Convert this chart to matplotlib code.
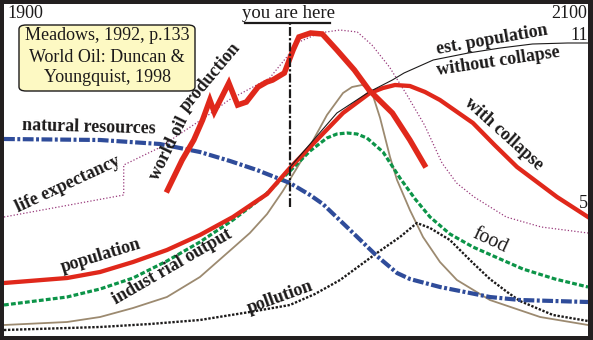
import matplotlib
matplotlib.use("Agg")
import matplotlib.pyplot as plt
from matplotlib.patches import FancyBboxPatch

W, H = 593, 340

# ---------------- data (year, relative level) ----------------
pop_years = [1900, 1921.6, 1932.9, 1944.2, 1955.8, 1967.1, 1978.4, 1990.1, 1997.9, 2004.8, 2016.1, 2025.3,
             2029.8, 2033.9, 2039.0, 2044.2, 2049.3, 2060.6, 2068.0, 2075.7, 2089.4, 2100]
pop_vals = [53, 58, 64, 74, 86, 101, 119, 142, 168, 189, 223, 243,
            248, 251, 250, 244, 236, 213, 191, 169, 139, 119]

est_years = [1998, 2014, 2025, 2033, 2037, 2047, 2059, 2070, 2081, 2093, 2100]
est_vals = [169, 223, 244, 256, 263, 276, 283, 288, 292, 293, 293]

food_years = [1900, 1921.6, 1932.9, 1944.2, 1955.8, 1967.1, 1978.4, 1988.7, 1999.0, 2004.8, 2010.6, 2014.0,
              2017.5, 2020.9, 2024.3, 2029.8, 2035.6, 2040.8, 2045.9, 2052.7, 2060.6, 2069.9, 2077.7, 2088.7, 2100]
food_vals = [31, 39, 47, 58, 75, 94, 116, 139, 168, 185, 198, 202,
             203, 202, 198, 184, 158, 137, 119, 102, 89, 77, 67, 57, 49]

ind_years = [1900, 1921.6, 1932.9, 1944.2, 1955.8, 1967.1, 1978.4, 1984.2, 1990.1, 1995.5, 2000.3, 2004.8,
             2010.6, 2016.1, 2019.2, 2022.6, 2024.3, 2026.4, 2028.8, 2032.2, 2034.6, 2039.0, 2043.5, 2049.3,
             2055.1, 2066.4, 2083.6, 2100]
ind_vals = [11, 14, 19, 28, 39, 59, 88, 103, 122, 145, 168, 190,
            221, 243, 249, 251, 249, 240, 218, 179, 156, 126, 99, 74,
            56, 36, 19, 11]

pol_years = [1900, 1932.9, 1950, 1967.1, 1984.2, 1997.9, 2006.5, 2015.1, 2027.7, 2035.6, 2041.4, 2045.9,
             2052.7, 2060.6, 2066.4, 2072.3, 2076.7, 2088, 2100]
pol_vals = [6, 9, 12, 16, 24, 31, 42, 56, 83, 99, 113, 108,
            96, 73, 57, 44, 35, 21, 15]

res_years = [1900, 1932.9, 1953.4, 1967.1, 1977.4, 1986.6, 1997.9, 2004.8, 2009.2, 2018.5, 2027.7, 2034.6,
             2039.0, 2049.3, 2066.4, 2076.7, 2100]
res_vals = [197, 196, 192, 184, 175, 166, 153, 141, 132, 106, 80, 63,
            57, 49, 39, 36, 34]

oil_years = [1956, 1961, 1965, 1968, 1970.5, 1972, 1977, 1980, 1983, 1987, 1990, 1992, 1996, 1999, 2001,
             2005, 2009, 2014, 2020, 2025, 2033, 2039, 2044]
oil_vals = [146, 176, 196, 216, 236, 224, 253, 231, 234, 249, 254, 256, 263, 286, 299,
            303, 302, 286, 266, 246, 223, 196, 171]

life_years = [1900, 1941, 1941, 1953, 1970, 1977, 1991, 1996, 2001, 2008, 2015, 2021, 2026, 2032, 2038,
              2044, 2050, 2055, 2061, 2072, 2084, 2100]
life_vals = [119, 141, 171, 188, 221, 236, 258, 276, 294, 303, 306, 304, 291, 269, 241,
             211, 173, 153, 139, 119, 109, 103]

here_year = 1998

# ---------------- figure ----------------
fig = plt.figure(figsize=(W / 100, H / 100), dpi=100, facecolor='#231f20')
ax = fig.add_axes([4 / W, 4 / H, 584 / W, 332 / H])
ax.set_facecolor('white')
ax.set_xlim(1900, 2100)
ax.set_ylim(0, 332)
ax.set_xticks([])
ax.set_yticks([])
for s in ax.spines.values():
    s.set_visible(False)

RED = '#e0281b'
BLUE = '#2f4c9a'
GREEN = '#0c9448'
TAN = '#9c8a70'
PURPLE = '#993a7c'
INK = '#1c1a1a'

ax.plot(life_years, life_vals, color=PURPLE, lw=0.9, dashes=(1, 1.6), zorder=2)
ax.plot(ind_years, ind_vals, color=TAN, lw=1.3, zorder=3)
ax.plot(pol_years, pol_vals, color=INK, lw=1.7, dashes=(1, 0.7), zorder=3)
ax.plot(res_years, res_vals, color=BLUE, lw=3.0, dashes=(2.6, 0.6, 0.7, 0.6), solid_capstyle='butt', zorder=4)
ax.plot(food_years, food_vals, color=GREEN, lw=2.3, dashes=(1.5, 0.7), zorder=4)
ax.plot(pop_years, pop_vals, color=RED, lw=3.1, zorder=5)
ax.plot(est_years, est_vals, color=INK, lw=0.8, zorder=6)
ax.plot(oil_years, oil_vals, color=RED, lw=4.0, solid_joinstyle='miter', zorder=7)

# you are here marker
ax.plot([here_year, here_year], [129, 313], color=INK, lw=1.6, dashes=(4, 1, 1, 1), zorder=8)
ax.plot([here_year - 15.5, here_year + 13.5], [313, 313], color=INK, lw=1.6, zorder=8)


def P(x, y):
    return (x / W, 1 - y / H)


def T(x, y, s, size=12, rot=0, weight='bold', **kw):
    fig.text(*P(x, y), s, fontsize=size, rotation=rot, fontweight=weight,
             family='Liberation Serif', color=INK, ha='center', va='center',
             rotation_mode='anchor', zorder=10, **kw)


T(25, 14, '1900', size=13, weight='normal')
T(569, 14, '2100', size=13, weight='normal')
T(288, 13, 'you are here', size=13.5, weight='normal')
T(579, 35, '11', size=13, weight='normal')
T(583, 203, '5', size=13, weight='normal')

# source box
box = FancyBboxPatch(P(19, 91), 176 / W, 66 / H, transform=fig.transFigure,
                     boxstyle='round,pad=0,rounding_size=0.012', facecolor='#fdf9c3',
                     edgecolor=INK, lw=1.0, zorder=9)
fig.patches.append(box)
T(107, 36, 'Meadows, 1992, p.133', size=13, weight='normal')
T(107, 57, 'World Oil: Duncan &', size=13, weight='normal')
T(107, 78, 'Youngquist, 1998', size=13, weight='normal')

# curve labels
T(89, 127, 'natural resources', size=13, rot=-1.5)
T(68, 184, 'life expectancy', size=13, rot=25)
T(169, 148, 'world oil', size=13, rot=64)
T(210, 77, 'production', size=13, rot=50)
T(101, 256, 'population', size=13, rot=17)
T(172, 267, 'indust rial output', size=13, rot=30)
T(280, 297, 'pollution', size=13, rot=20)
T(490, 241, 'food', size=14.5, rot=-25, weight='normal')
T(504, 134, 'with collapse', size=13, rot=-42)
T(492, 40, 'est. population', size=13, rot=10)
T(498, 61, 'without collapse', size=13, rot=8.5)

fig.savefig('out.png', dpi=100, facecolor=fig.get_facecolor())
